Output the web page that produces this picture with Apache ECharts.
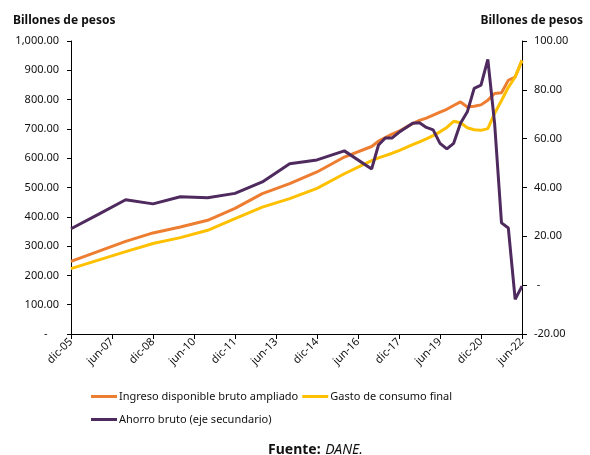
<!DOCTYPE html>
<html lang="es">
<head>
<meta charset="UTF-8">
<title>Ingreso, gasto y ahorro</title>
<script src="https://cdn.jsdelivr.net/npm/echarts@6/dist/echarts.min.js"></script>
<style>
  html, body { margin: 0; padding: 0; background: #fff; }
  #chart { width: 590px; height: 455px; }
</style>
</head>
<body>
<div id="chart"></div>
<script>
// periodos: anual hasta dic-16, trimestral despues
const periods = [
  '2005-12', '2006-12', '2007-12', '2008-12', '2009-12', '2010-12',
  '2011-12', '2012-12', '2013-12', '2014-12', '2015-12', '2016-12',
  '2017-03', '2017-06', '2017-09', '2017-12',
  '2018-03', '2018-06', '2018-09', '2018-12',
  '2019-03', '2019-06', '2019-09', '2019-12',
  '2020-03', '2020-06', '2020-09', '2020-12',
  '2021-03', '2021-06', '2021-09', '2021-12',
  '2022-03', '2022-06'
];
const ingreso = [
  248, 282, 316, 345, 365, 388, 429, 479, 513, 553, 604, 640,
  658, 670, 682, 692,
  705, 718, 729, 737,
  747, 757, 767, 780,
  792, 775, 777, 782,
  798, 821, 823, 866,
  877, 934
];
const gasto = [
  223, 252, 281, 309, 329, 354, 394, 433, 462, 497, 547, 592,
  601, 609, 617, 626,
  636, 646, 656, 666,
  677, 690, 705, 726,
  721, 704, 697, 695,
  701, 753, 797, 842,
  877, 934
];
const ahorro = [
  23.1, 29.0, 35.0, 33.3, 36.2, 35.8, 37.6, 42.3, 49.7, 51.3, 55.0, 47.6,
  57.4, 60.3, 60.3, 62.6,
  64.5, 66.3, 66.5, 64.6,
  63.6, 58.1, 55.8, 58.1,
  66.3, 71.0, 80.6, 81.9,
  92.5, 66.0, 25.5, 23.4,
  -5.8, -0.4
];
const meses = ['ene', 'feb', 'mar', 'abr', 'may', 'jun', 'jul', 'ago', 'sep', 'oct', 'nov', 'dic'];

// meses contados desde dic-05
function monthIndex(p) {
  const [y, m] = p.split('-').map(Number);
  return (y - 2005) * 12 + (m - 12);
}
function monthLabel(i) {
  const t = 11 + i;
  const y = 2005 + Math.floor(t / 12);
  return meses[t % 12] + '-' + String(y).slice(2);
}
const pairs = vals => periods.map((p, i) => [monthIndex(p), vals[i]]);

const font = 'Noto Sans';
const axisColor = '#000';

const chart = echarts.init(document.getElementById('chart'));
chart.setOption({
  animation: false,
  textStyle: { fontFamily: font, color: '#111' },
  title: [
    { text: 'Billones de pesos', left: 8, top: 10,
      textStyle: { fontFamily: font, fontSize: 12, fontWeight: 'bold', color: '#111' } },
    { text: 'Billones de pesos', right: 2, top: 10,
      textStyle: { fontFamily: font, fontSize: 12, fontWeight: 'bold', color: '#111' } },
    { text: '{b|Fuente:} {i|DANE.}', left: 263, top: 436,
      textStyle: { rich: {
        b: { fontFamily: font, fontSize: 14, fontWeight: 'bold', color: '#111' },
        i: { fontFamily: font, fontSize: 14, fontWeight: 'normal', fontStyle: 'italic', color: '#111' }
      } } }
  ],
  grid: { left: 71, right: 68, top: 41, bottom: 121, outerBoundsMode: 'none' },
  legend: [
    { left: 86, top: 386, itemWidth: 26, itemHeight: 3, itemGap: 4, icon: 'rect',
      textStyle: { fontFamily: font, fontSize: 11, color: '#111', padding: [0, 0, 0, -3] },
      data: ['Ingreso disponible bruto ampliado', 'Gasto de consumo final'] },
    { left: 86, top: 409, itemWidth: 26, itemHeight: 3, icon: 'rect',
      textStyle: { fontFamily: font, fontSize: 11, color: '#111', padding: [0, 0, 0, -3] },
      data: ['Ahorro bruto (eje secundario)'] }
  ],
  xAxis: {
    type: 'value', min: 0, max: 198, interval: 18,
    axisLine: { lineStyle: { color: axisColor, width: 1 } },
    axisTick: { show: true, length: 5, lineStyle: { color: axisColor } },
    axisLabel: { rotate: 45, fontSize: 11, margin: 6, color: '#111',
      formatter: v => monthLabel(v) },
    splitLine: { show: false }
  },
  yAxis: [
    {
      type: 'value', min: 0, max: 1000, interval: 100,
      axisLine: { show: true, lineStyle: { color: axisColor, width: 1 } },
      axisTick: { show: true, length: 4, lineStyle: { color: axisColor } },
      axisLabel: { fontSize: 11, margin: 12, color: '#111',
        formatter: v => v === 0 ? '-    ' :
          v.toLocaleString('en-US', { minimumFractionDigits: 2, maximumFractionDigits: 2 }) },
      splitLine: { show: false }
    },
    {
      type: 'value', min: -20, max: 100, interval: 20,
      axisLine: { show: true, lineStyle: { color: axisColor, width: 1 } },
      axisTick: { show: true, length: 5, lineStyle: { color: axisColor } },
      axisLabel: { fontSize: 11, margin: 12, color: '#111',
        formatter: v => v === 0 ? ' -' : v.toFixed(2) },
      splitLine: { show: false }
    }
  ],
  series: [
    { name: 'Ingreso disponible bruto ampliado', type: 'line', data: pairs(ingreso),
      showSymbol: false, color: '#ED7D31', lineStyle: { width: 3 } },
    { name: 'Gasto de consumo final', type: 'line', data: pairs(gasto),
      showSymbol: false, color: '#FFC000', lineStyle: { width: 3 } },
    { name: 'Ahorro bruto (eje secundario)', type: 'line', yAxisIndex: 1, data: pairs(ahorro),
      showSymbol: false, color: '#4E2A5E', lineStyle: { width: 3 } }
  ]
});
</script>
</body>
</html>
